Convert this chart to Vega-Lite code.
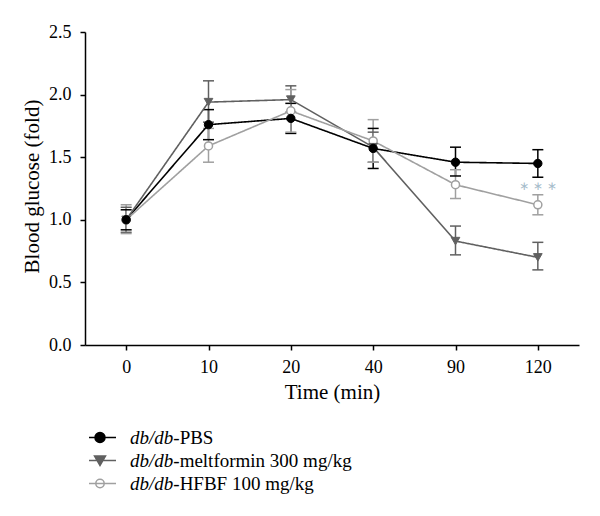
{
  "$schema": "https://vega.github.io/schema/vega-lite/v6.json",
  "width": 494,
  "height": 313,
  "autosize": {"type": "none"},
  "padding": {"left": 85, "top": 32, "right": 21, "bottom": 171},
  "background": "white",
  "config": {
    "view": {"stroke": null},
    "font": "Liberation Serif",
    "axis": {
      "labelFont": "Liberation Serif",
      "titleFont": "Liberation Serif",
      "labelColor": "#000",
      "titleColor": "#000",
      "domainColor": "#000",
      "tickColor": "#000",
      "domainWidth": 1.5,
      "tickWidth": 1.5,
      "tickSize": 5,
      "grid": false,
      "labelFontSize": 18,
      "titleFontSize": 21,
      "titleFontWeight": 400
    },
    "legend": {
      "labelFont": "Liberation Serif",
      "labelFontSize": 19,
      "labelColor": "#000",
      "labelLimit": 600,
      "symbolSize": 400,
      "symbolStrokeWidth": 1.5,
      "rowPadding": 0,
      "clipHeight": 23,
      "padding": 0
    }
  },
  "datasets": {
    "main": [
      {"time": "0", "group": "db/db-PBS", "suffix": "-PBS", "mean": 1.0, "lo": 0.92, "hi": 1.08},
      {"time": "10", "group": "db/db-PBS", "suffix": "-PBS", "mean": 1.76, "lo": 1.64, "hi": 1.88},
      {"time": "20", "group": "db/db-PBS", "suffix": "-PBS", "mean": 1.81, "lo": 1.69, "hi": 1.93},
      {"time": "40", "group": "db/db-PBS", "suffix": "-PBS", "mean": 1.57, "lo": 1.41, "hi": 1.73},
      {"time": "90", "group": "db/db-PBS", "suffix": "-PBS", "mean": 1.46, "lo": 1.35, "hi": 1.58},
      {"time": "120", "group": "db/db-PBS", "suffix": "-PBS", "mean": 1.45, "lo": 1.34, "hi": 1.56},
      {"time": "0", "group": "db/db-meltformin 300 mg/kg", "suffix": "-meltformin 300 mg/kg", "mean": 1.0, "lo": 0.9, "hi": 1.1},
      {"time": "10", "group": "db/db-meltformin 300 mg/kg", "suffix": "-meltformin 300 mg/kg", "mean": 1.94, "lo": 1.78, "hi": 2.11},
      {"time": "20", "group": "db/db-meltformin 300 mg/kg", "suffix": "-meltformin 300 mg/kg", "mean": 1.96, "lo": 1.86, "hi": 2.07},
      {"time": "40", "group": "db/db-meltformin 300 mg/kg", "suffix": "-meltformin 300 mg/kg", "mean": 1.58, "lo": 1.46, "hi": 1.7},
      {"time": "90", "group": "db/db-meltformin 300 mg/kg", "suffix": "-meltformin 300 mg/kg", "mean": 0.83, "lo": 0.72, "hi": 0.95},
      {"time": "120", "group": "db/db-meltformin 300 mg/kg", "suffix": "-meltformin 300 mg/kg", "mean": 0.7, "lo": 0.6, "hi": 0.82},
      {"time": "0", "group": "db/db-HFBF 100 mg/kg", "suffix": "-HFBF 100 mg/kg", "mean": 1.0, "lo": 0.89, "hi": 1.12},
      {"time": "10", "group": "db/db-HFBF 100 mg/kg", "suffix": "-HFBF 100 mg/kg", "mean": 1.59, "lo": 1.46, "hi": 1.73},
      {"time": "20", "group": "db/db-HFBF 100 mg/kg", "suffix": "-HFBF 100 mg/kg", "mean": 1.87, "lo": 1.7, "hi": 2.04},
      {"time": "40", "group": "db/db-HFBF 100 mg/kg", "suffix": "-HFBF 100 mg/kg", "mean": 1.63, "lo": 1.46, "hi": 1.8},
      {"time": "90", "group": "db/db-HFBF 100 mg/kg", "suffix": "-HFBF 100 mg/kg", "mean": 1.28, "lo": 1.17, "hi": 1.4},
      {"time": "120", "group": "db/db-HFBF 100 mg/kg", "suffix": "-HFBF 100 mg/kg", "mean": 1.12, "lo": 1.04, "hi": 1.2}
    ],
    "note": [
      {"time": "120", "value": 1.27, "label": "∗ ∗ ∗"}
    ]
  },
  "encoding": {
    "x": {
      "field": "time",
      "type": "ordinal",
      "sort": ["0", "10", "20", "40", "90", "120"],
      "scale": {"type": "point", "padding": 0.5},
      "axis": {"labelAngle": 0, "labelPadding": 8, "title": "Time (min)", "titleFontWeight": 400, "titleBaseline": "alphabetic", "titleY": 53}
    },
    "y": {"field": "mean", "type": "quantitative", "title": "Blood glucose (fold)", "scale": {"domain": [0, 2.5], "nice": false}, "axis": {"tickCount": 5, "format": ".1f", "labelPadding": 9, "titleFontWeight": 400, "titleX": -47, "titleY": 154, "titleBaseline": "alphabetic", "titleAlign": "center", "titleAngle": -90}}
  },
  "layer": [
    {
      "data": {"name": "main"},
      "mark": {"type": "rule", "strokeWidth": 1.5, "opacity": 1},
      "encoding": {
        "y": {"field": "lo", "type": "quantitative", "title": "Blood glucose (fold)", "scale": {"domain": [0, 2.5], "nice": false}, "axis": {"tickCount": 5, "format": ".1f", "labelPadding": 9, "titleFontWeight": 400, "titleX": -47, "titleY": 154, "titleBaseline": "alphabetic", "titleAlign": "center", "titleAngle": -90}},
        "y2": {"field": "hi"},
        "color": {"field": "group", "type": "nominal", "legend": null, "scale": {"domain": ["db/db-HFBF 100 mg/kg", "db/db-meltformin 300 mg/kg", "db/db-PBS"], "range": ["#a0a0a0", "#606060", "#000000"]}}
      }
    },
    {
      "data": {"name": "main"},
      "mark": {"type": "tick", "size": 11, "thickness": 1.5, "opacity": 1},
      "encoding": {
        "y": {"field": "lo", "type": "quantitative", "title": "Blood glucose (fold)", "scale": {"domain": [0, 2.5], "nice": false}, "axis": {"tickCount": 5, "format": ".1f", "labelPadding": 9, "titleFontWeight": 400, "titleX": -47, "titleY": 154, "titleBaseline": "alphabetic", "titleAlign": "center", "titleAngle": -90}},
        "color": {"field": "group", "type": "nominal", "legend": null, "scale": {"domain": ["db/db-HFBF 100 mg/kg", "db/db-meltformin 300 mg/kg", "db/db-PBS"], "range": ["#a0a0a0", "#606060", "#000000"]}}
      }
    },
    {
      "data": {"name": "main"},
      "mark": {"type": "tick", "size": 11, "thickness": 1.5, "opacity": 1},
      "encoding": {
        "y": {"field": "hi", "type": "quantitative", "title": "Blood glucose (fold)", "scale": {"domain": [0, 2.5], "nice": false}, "axis": {"tickCount": 5, "format": ".1f", "labelPadding": 9, "titleFontWeight": 400, "titleX": -47, "titleY": 154, "titleBaseline": "alphabetic", "titleAlign": "center", "titleAngle": -90}},
        "color": {"field": "group", "type": "nominal", "legend": null, "scale": {"domain": ["db/db-HFBF 100 mg/kg", "db/db-meltformin 300 mg/kg", "db/db-PBS"], "range": ["#a0a0a0", "#606060", "#000000"]}}
      }
    },
    {
      "data": {"name": "main"},
      "mark": {"type": "line", "strokeWidth": 1.6},
      "encoding": {
        "color": {"field": "group", "type": "nominal", "legend": null, "scale": {"domain": ["db/db-HFBF 100 mg/kg", "db/db-meltformin 300 mg/kg", "db/db-PBS"], "range": ["#a0a0a0", "#606060", "#000000"]}},
        "strokeDash": {
          "field": "suffix",
          "type": "nominal",
          "scale": {"domain": ["-PBS", "-meltformin 300 mg/kg", "-HFBF 100 mg/kg"], "range": [[1, 0], [1, 0], [1, 0]]},
          "legend": {"title": null, "orient": "none", "legendX": 4, "legendY": 394, "labelOffset": 62.3, "symbolOpacity": 0, "symbolType": "circle", "labelFontStyle": "normal", "clipHeight": 23, "rowPadding": 0}
        }
      }
    },
    {
      "data": {"name": "main"},
      "transform": [{"filter": "datum.group === 'db/db-HFBF 100 mg/kg'"}],
      "mark": {"type": "point", "shape": "circle", "filled": false, "stroke": "#a0a0a0", "fill": "#ffffff", "strokeWidth": 1.5, "size": 65, "opacity": 1}
    },
    {
      "data": {"name": "main"},
      "transform": [{"filter": "datum.group === 'db/db-meltformin 300 mg/kg'"}],
      "mark": {"type": "point", "shape": "triangle-down", "filled": true, "fill": "#606060", "stroke": "#606060", "strokeWidth": 1, "size": 75, "opacity": 1}
    },
    {
      "data": {"name": "main"},
      "transform": [{"filter": "datum.group === 'db/db-PBS'"}],
      "mark": {"type": "point", "shape": "circle", "filled": true, "fill": "#000000", "stroke": "#000000", "strokeWidth": 1, "size": 70, "opacity": 1}
    },
    {
      "data": {"name": "main"},
      "transform": [{"filter": "datum.mean < 0"}],
      "mark": {"type": "point", "filled": false, "strokeWidth": 1.5, "opacity": 1},
      "encoding": {
        "stroke": {
          "field": "group",
          "type": "nominal",
          "scale": {"domain": ["db/db-PBS", "db/db-meltformin 300 mg/kg", "db/db-HFBF 100 mg/kg"], "range": ["#000000", "#606060", "#a0a0a0"]},
          "legend": {
            "title": null,
            "orient": "none",
            "legendX": 4,
            "legendY": 394,
            "labelExpr": "'db/db'",
            "labelFontStyle": "italic",
            "labelOffset": 19,
            "symbolOpacity": 1,
            "clipHeight": 23,
            "rowPadding": 0
          }
        },
        "fill": {
          "field": "group",
          "type": "nominal",
          "scale": {"domain": ["db/db-PBS", "db/db-meltformin 300 mg/kg", "db/db-HFBF 100 mg/kg"], "range": ["#000000", "#606060", "#ffffff"]}
        },
        "shape": {
          "field": "group",
          "type": "nominal",
          "scale": {"domain": ["db/db-PBS", "db/db-meltformin 300 mg/kg", "db/db-HFBF 100 mg/kg"], "range": ["M-1.6,0H1.6M0.5,0A0.5,0.5,0,1,1,-0.5,0A0.5,0.5,0,1,1,0.5,0Z", "M-1.6,0H1.6M-0.55,-0.45L0.55,-0.45L0,0.5Z", "M-1.6,0H1.6M0.42,0A0.42,0.42,0,1,1,-0.42,0A0.42,0.42,0,1,1,0.42,0Z"]}
        }
      }
    },
    {
      "data": {"name": "note"},
      "mark": {"type": "text", "font": "DejaVu Sans", "fontSize": 12, "color": "#a6bccb", "baseline": "middle"},
      "encoding": {
        "y": {"field": "value", "type": "quantitative", "title": "Blood glucose (fold)", "scale": {"domain": [0, 2.5], "nice": false}, "axis": {"tickCount": 5, "format": ".1f", "labelPadding": 9, "titleFontWeight": 400, "titleX": -47, "titleY": 154, "titleBaseline": "alphabetic", "titleAlign": "center", "titleAngle": -90}},
        "text": {"field": "label"}
      }
    }
  ]
}
